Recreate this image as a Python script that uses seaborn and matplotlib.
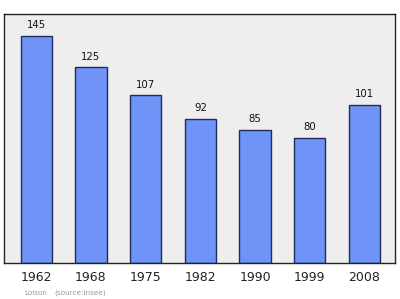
import matplotlib
matplotlib.use("Agg")
import matplotlib.pyplot as plt
import seaborn as sns
import pandas as pd

years = ["1962", "1968", "1975", "1982", "1990", "1999", "2008"]
population = [145, 125, 107, 92, 85, 80, 101]

df = pd.DataFrame({"year": years, "pop": population})

sns.set_style("white")
plt.rcParams['font.family'] = ['DejaVu Sans']

fig = plt.figure(figsize=(4.0, 2.99), dpi=100)
ax = fig.add_axes([4/400, 1 - 263/299, 391/400, 249/299])
ax.set_facecolor("#eeeeee")

sns.barplot(data=df, x="year", y="pop", ax=ax, color="#6f93f6", saturation=1,
            width=0.57, edgecolor="#1f2d5c", linewidth=1.0)

ax.set_xlim(-0.59, 6.56)
ax.set_ylim(0, 159)
for i, v in enumerate(population):
    ax.text(i, v + 3.5, str(v), ha="center", va="bottom", fontsize=7.3, color="#111111")

ax.set_xlabel("")
ax.set_ylabel("")
ax.set_yticks([])
ax.tick_params(axis="x", length=0, labelsize=9, pad=6, colors="#222222")
for s in ax.spines.values():
    s.set_visible(True)
    s.set_color("#222222")
    s.set_linewidth(1.0)

fig.text(24/400, 1 - 293/299, "Loison", fontsize=5.2, color="#999999", va="center")
fig.text(54/400, 1 - 293/299, "(source:Insee)", fontsize=5.2, color="#999999", va="center")

fig.savefig("out.png", dpi=100)
